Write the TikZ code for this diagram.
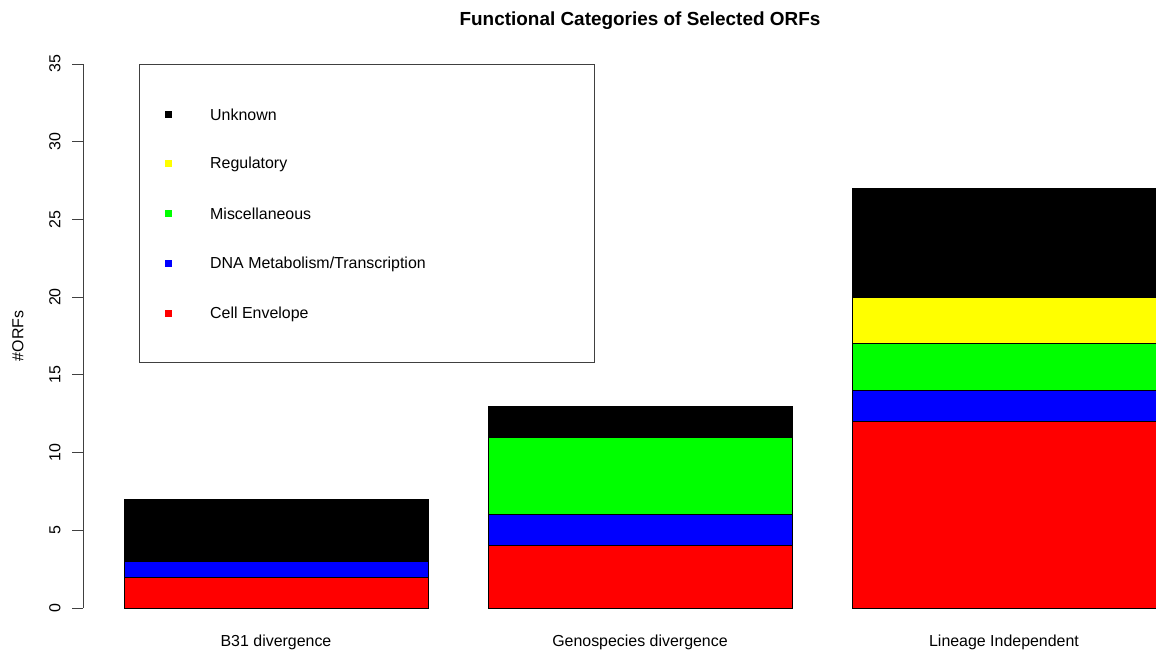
\documentclass[tikz,border=0pt]{standalone}
\usepackage{fontspec}
\setmainfont{Liberation Sans}
\definecolor{rYellow}{RGB}{255,255,0}
\definecolor{rGreen}{RGB}{0,255,0}
\definecolor{rRed}{RGB}{255,0,0}
\definecolor{rBlue}{RGB}{0,0,255}
\begin{document}
\begin{tikzpicture}[x=1bp,y=1bp,
  lbl/.style={font=\fontsize{16}{19}\selectfont, inner sep=0pt},
  ttl/.style={font=\fontsize{19}{22}\selectfont\bfseries, inner sep=0pt},
  seg/.style={draw=black, line width=0.75bp},
  axisline/.style={draw=black!75, line width=0.8bp},
  key/.style={minimum size=7bp, inner sep=0pt}]
\useasboundingbox (0,0) rectangle (1156,650);
\node[ttl] (title) at (640,629) {Functional Categories of Selected ORFs};
\node[lbl, rotate=90] (ylab) at (18,314) {\#ORFs};
\begin{scope}[shift={(0,42)}, y=15.543bp]
% y axis
\draw[axisline] (83,0) -- (83,35);
\foreach \v in {0,5,...,35} {
  \draw[axisline] (72,\v) -- (83,\v);
  \node[lbl, rotate=90] (tick\v) at (55,\v) {\v};
}
% bars
\foreach \a/\b/\c in {0/2/rRed, 2/3/rBlue, 3/7/black}
  \filldraw[seg, fill=\c] (124,\a) rectangle (428,\b);
\foreach \a/\b/\c in {0/4/rRed, 4/6/rBlue, 6/11/rGreen, 11/13/black}
  \filldraw[seg, fill=\c] (488,\a) rectangle (792,\b);
\foreach \a/\b/\c in {0/12/rRed, 12/14/rBlue, 14/17/rGreen, 17/20/rYellow, 20/27/black}
  \filldraw[seg, fill=\c] (852,\a) rectangle (1158,\b);
\end{scope}
% legend
\draw[axisline] (139,288) rectangle (594,586);
\foreach \y/\c/\t [count=\i] in {535/black/Unknown, 486/rYellow/Regulatory,
    436/rGreen/Miscellaneous, 386/rBlue/DNA Metabolism\slash Transcription,
    336/rRed/Cell Envelope} {
  \node[key, fill=\c] (key\i) at (168,\y) {};
  \node[lbl, anchor=west] (entry\i) at (210,\y) {\t};
}
% categories
\node[lbl] (cat1) at (276,8) {B31 divergence};
\node[lbl] (cat2) at (640,8) {Genospecies divergence};
\node[lbl] (cat3) at (1004,8) {Lineage Independent};
\end{tikzpicture}
\end{document}
